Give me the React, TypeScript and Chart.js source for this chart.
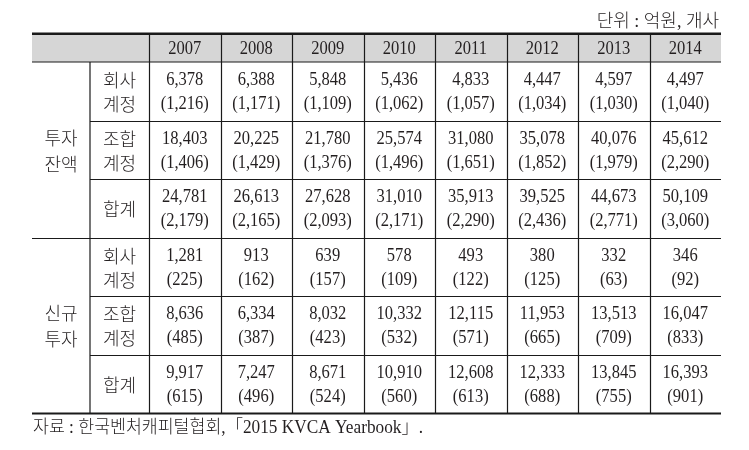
import React, { useEffect, useRef } from "react";
import { Chart, registerables } from "chart.js";

Chart.register(...registerables);

// ---- data ----
const years = ["2007", "2008", "2009", "2010", "2011", "2012", "2013", "2014"];
const groupLabels = [["투자", "잔액"], ["신규", "투자"]];
const subLabels = [["회사", "계정"], ["조합", "계정"], ["합계"]];
const rowKeys = ["bal-company", "bal-fund", "bal-total", "new-company", "new-fund", "new-total"];

const balCompanyAmt = [6378, 6388, 5848, 5436, 4833, 4447, 4597, 4497];
const balCompanyCnt = [1216, 1171, 1109, 1062, 1057, 1034, 1030, 1040];
const balFundAmt = [18403, 20225, 21780, 25574, 31080, 35078, 40076, 45612];
const balFundCnt = [1406, 1429, 1376, 1496, 1651, 1852, 1979, 2290];
const balTotalAmt = [24781, 26613, 27628, 31010, 35913, 39525, 44673, 50109];
const balTotalCnt = [2179, 2165, 2093, 2171, 2290, 2436, 2771, 3060];
const newCompanyAmt = [1281, 913, 639, 578, 493, 380, 332, 346];
const newCompanyCnt = [225, 162, 157, 109, 122, 125, 63, 92];
const newFundAmt = [8636, 6334, 8032, 10332, 12115, 11953, 13513, 16047];
const newFundCnt = [485, 387, 423, 532, 571, 665, 709, 833];
const newTotalAmt = [9917, 7247, 8671, 10910, 12608, 12333, 13845, 16393];
const newTotalCnt = [615, 496, 524, 560, 613, 688, 755, 901];

const unitText = "단위 : 억원, 개사";
const sourceText = "자료 : 한국벤처캐피털협회,「2015 KVCA Yearbook」.";

const rowAmounts = [balCompanyAmt, balFundAmt, balTotalAmt, newCompanyAmt, newFundAmt, newTotalAmt];
const rowCounts = [balCompanyCnt, balFundCnt, balTotalCnt, newCompanyCnt, newFundCnt, newTotalCnt];

// ---- layout / style ----
const W = 749;
const H = 450;
const TABLE_LEFT = 32;
const SUB_LEFT = 90;
const HEADER_TOP = 35;
const TEXT = "#231f20";
const FONT = "'Liberation Serif', 'Noto Sans CJK KR', serif";
const HANGUL = "'Noto Sans CJK KR', sans-serif";
const NUM_SX = 0.87;
const fmt = (n: number) => n.toLocaleString("en-US");

function drawScaled(ctx: CanvasRenderingContext2D, text: string, px: number, py: number, sx: number) {
  ctx.save();
  ctx.translate(px, py);
  ctx.scale(sx, 1);
  ctx.fillText(text, 0, 0);
  ctx.restore();
}

const tablePlugin = {
  id: "tablePlugin",
  afterDraw(chart: any) {
    const ctx = chart.ctx as CanvasRenderingContext2D;
    const x = chart.scales.x;
    const y = chart.scales.y;
    const right = x.right;
    const bandW = Math.abs(x.getPixelForValue(1) - x.getPixelForValue(0));
    const bandH = Math.abs(y.getPixelForValue(1) - y.getPixelForValue(0));
    const rowTop = (i: number) => y.getPixelForValue(i) - bandH / 2;
    const rowBot = (i: number) => y.getPixelForValue(i) + bandH / 2;
    const colLeft = (i: number) => x.getPixelForValue(i) - bandW / 2;

    ctx.save();
    // header background
    ctx.fillStyle = "#d6d6d6";
    ctx.fillRect(TABLE_LEFT, HEADER_TOP, right - TABLE_LEFT, y.top - HEADER_TOP);

    const hline = (yy: number, x0: number, x1: number, w: number) => {
      ctx.beginPath();
      ctx.lineWidth = w;
      ctx.strokeStyle = "#1a1a1a";
      ctx.moveTo(x0, yy);
      ctx.lineTo(x1, yy);
      ctx.stroke();
    };
    const vline = (xx: number, y0: number, y1: number) => {
      ctx.beginPath();
      ctx.lineWidth = 1.2;
      ctx.strokeStyle = "#1a1a1a";
      ctx.moveTo(xx, y0);
      ctx.lineTo(xx, y1);
      ctx.stroke();
    };

    // vertical lines
    vline(SUB_LEFT, y.top, y.bottom);
    for (let i = 0; i < years.length; i++) {
      vline(Math.round(colLeft(i)) + 0.5, HEADER_TOP, y.bottom);
    }
    // horizontal lines
    hline(HEADER_TOP - 1.2, TABLE_LEFT, right, 2.5);
    hline(y.top, TABLE_LEFT, right, 1.2);
    for (let r = 0; r < rowKeys.length - 1; r++) {
      const yy = Math.round(rowBot(r)) + 0.5;
      const full = r === 2;
      hline(yy, full ? TABLE_LEFT : SUB_LEFT, right, 1.2);
    }
    hline(y.bottom + 0.5, TABLE_LEFT, right, 2.2);

    ctx.fillStyle = TEXT;
    ctx.textAlign = "center";
    ctx.textBaseline = "middle";

    // header years
    ctx.font = `19px ${FONT}`;
    years.forEach((yr, i) => {
      drawScaled(ctx, yr, x.getPixelForValue(i), (HEADER_TOP + y.top) / 2 + 1, NUM_SX);
    });

    // cells
    for (let r = 0; r < rowKeys.length; r++) {
      const cy = y.getPixelForValue(r);
      for (let c = 0; c < years.length; c++) {
        const cx = x.getPixelForValue(c);
        drawScaled(ctx, fmt(rowAmounts[r][c]), cx, cy - 11, NUM_SX);
        drawScaled(ctx, `(${fmt(rowCounts[r][c])})`, cx, cy + 13, NUM_SX);
      }
    }

    // sub labels
    ctx.font = `300 18px ${HANGUL}`;
    const subCx = (SUB_LEFT + colLeft(0)) / 2;
    for (let r = 0; r < rowKeys.length; r++) {
      const lines = subLabels[r % 3];
      const cy = y.getPixelForValue(r);
      if (lines.length === 2) {
        ctx.fillText(lines[0], subCx, cy - 11);
        ctx.fillText(lines[1], subCx, cy + 13);
      } else {
        ctx.fillText(lines[0], subCx, cy + 1);
      }
    }
    // group labels
    const grpCx = (TABLE_LEFT + SUB_LEFT) / 2;
    groupLabels.forEach((lines, g) => {
      const cy = (rowTop(g * 3) + rowBot(g * 3 + 2)) / 2;
      ctx.fillText(lines[0], grpCx, cy - 12);
      ctx.fillText(lines[1], grpCx, cy + 14);
    });

    // unit text
    ctx.font = `300 18px ${FONT}`;
    ctx.textAlign = "right";
    ctx.fillText(unitText, right - 2, 22);
    // source
    ctx.textAlign = "left";
    drawScaled(ctx, sourceText, TABLE_LEFT + 1, y.bottom + 15, 0.96);
    ctx.restore();
  },
};

export default function App() {
  const ref = useRef<HTMLCanvasElement | null>(null);
  useEffect(() => {
    document.body.style.margin = "0";
    const canvas = ref.current;
    if (!canvas) return;
    const chart = new Chart(canvas, {
      type: "bar",
      data: { labels: years, datasets: [] },
      options: {
        animation: false,
        responsive: false,
        devicePixelRatio: 1,
        layout: { padding: { left: 149, right: 28, top: 62, bottom: 37 } },
        plugins: { legend: { display: false }, tooltip: { enabled: false } },
        scales: {
          x: { type: "category", offset: true, display: false },
          y: { type: "category", labels: rowKeys, offset: true, display: false },
        },
      },
      plugins: [tablePlugin],
    });
    return () => chart.destroy();
  }, []);
  return (
    <div style={{ width: W, height: H, background: "#fff" }}>
      <canvas ref={ref} width={W} height={H} style={{ display: "block" }} />
    </div>
  );
}
